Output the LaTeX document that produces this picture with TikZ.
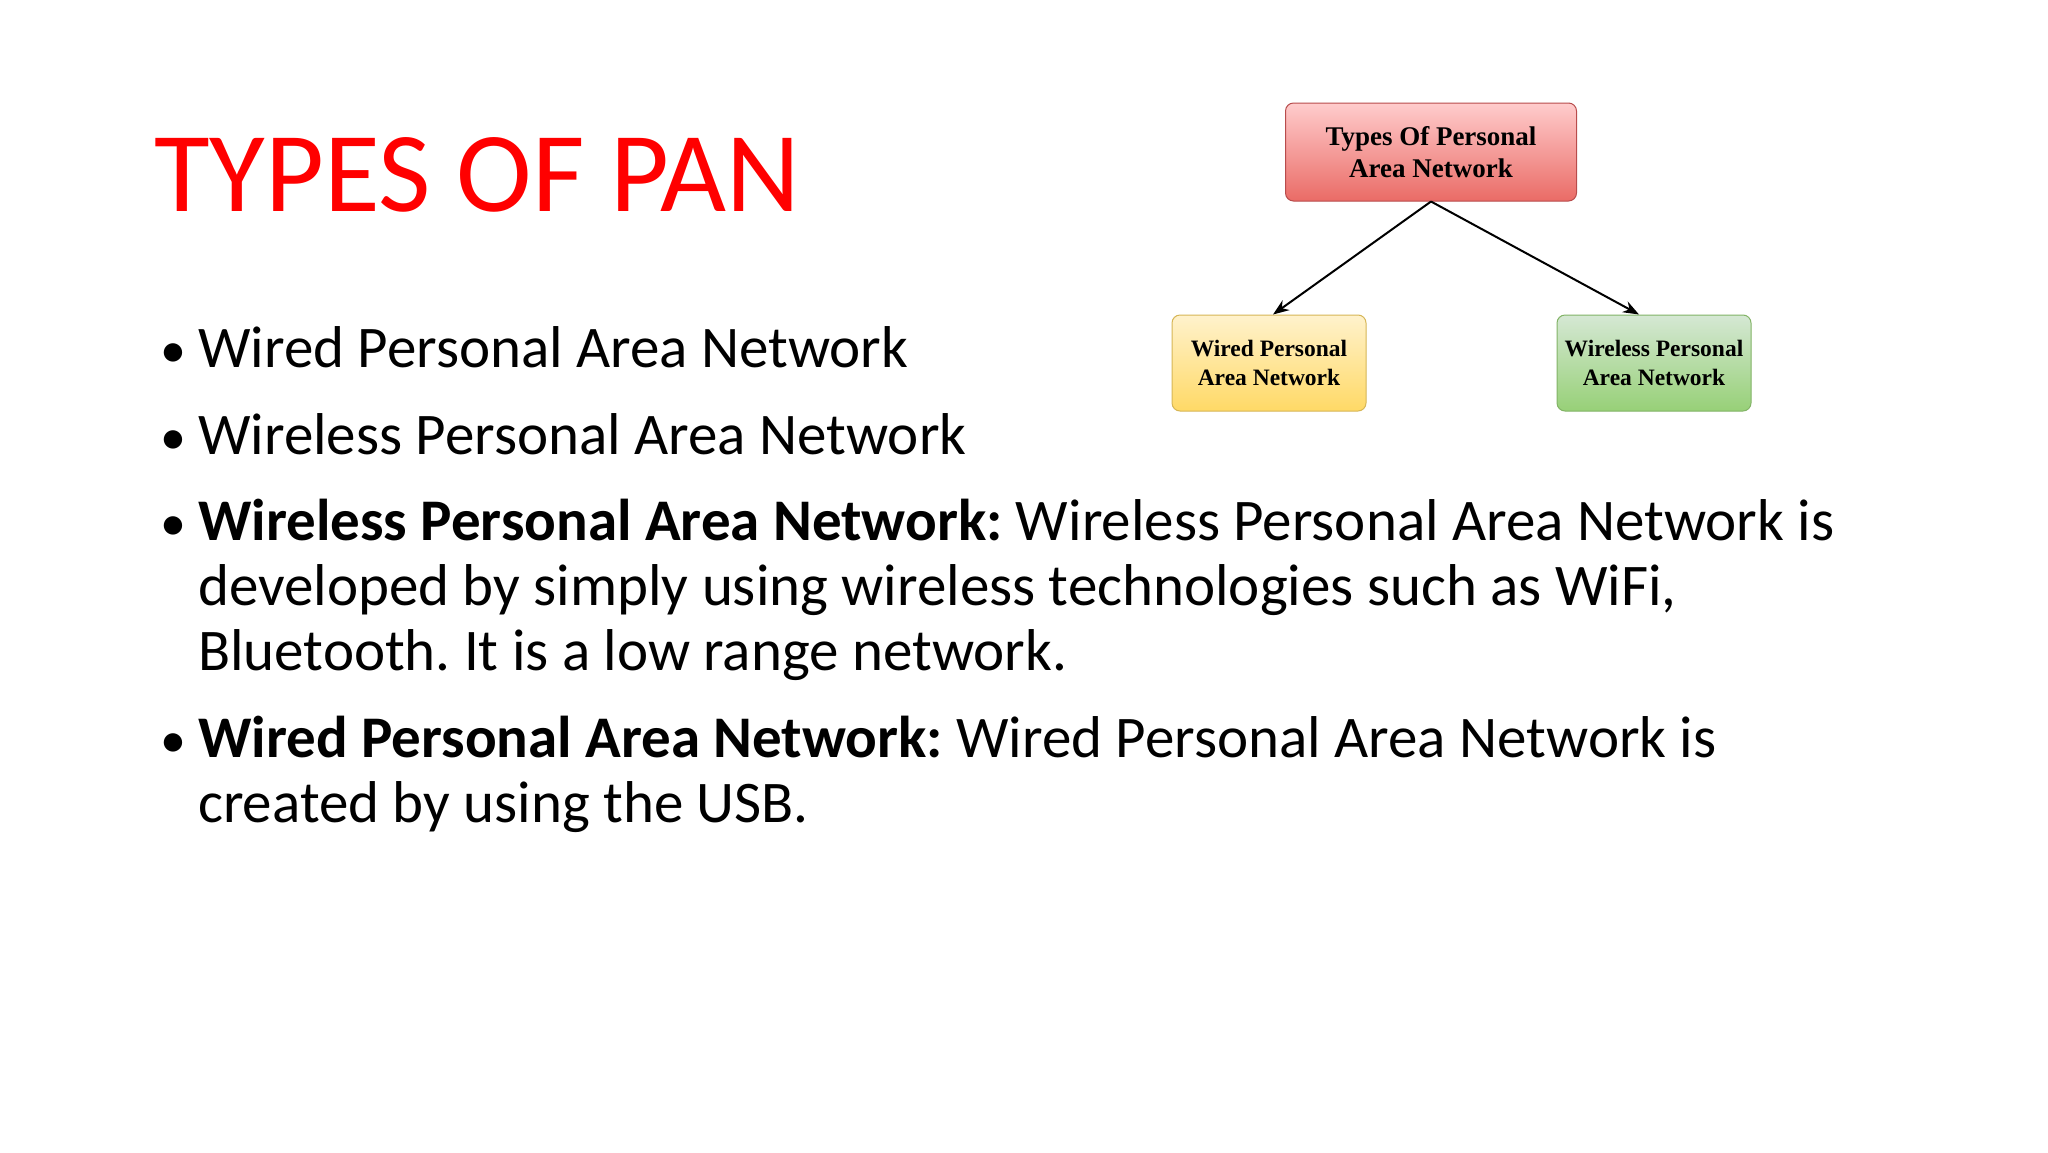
\documentclass[tikz,border=0pt]{standalone}
\usepackage{fontspec}
\setmainfont{Carlito}
\newfontfamily\boxfont{Liberation Serif}
\usetikzlibrary{arrows.meta}
\begin{document}
\frenchspacing
\begin{tikzpicture}[x=1pt,y=-1pt,
  line/.style={anchor=base west,inner sep=0pt,font=\fontsize{59}{70}\selectfont},
  bul/.style={anchor=base west,inner sep=0pt,font=\fontsize{52}{60}\selectfont},
  pbox/.style={draw,rounded corners=8pt,align=center,line width=1pt,font=\boxfont\bfseries\fontsize{27}{32}\selectfont},
  sbox/.style={pbox,minimum width=194pt,minimum height=96pt,font=\boxfont\bfseries\fontsize{23.5}{29}\selectfont},
  conn/.style={-{Stealth[length=16pt,width=12pt]},line width=2pt}]
\useasboundingbox (0,0) rectangle (2048,1152);
\fill[white] (0,0) rectangle (2048,1152);
\node[anchor=base west,inner sep=0pt,text=red,font=\fontsize{114}{130}\selectfont] (title) at (154,211) {TYPES OF PAN};
\foreach \y/\n in {367/b1,454/b2,540/b3,757/b4}{\node[bul] (\n) at (160,\y) {•};}
\node[line] (l1) at (198,367) {Wired Personal Area Network};
\node[line] (l2) at (198,454) {Wireless Personal Area Network};
\node[line] (l3) at (198,540) {\textbf{Wireless Personal Area Network:} Wireless Personal Area Network is};
\node[line] (l4) at (198,605) {developed by simply using wireless technologies such as WiFi,};
\node[line] (l5) at (198,670) {Bluetooth. It is a low range network.};
\node[line] (l6) at (198,757) {\textbf{Wired Personal Area Network:} Wired Personal Area Network is};
\node[line] (l7) at (198,822) {created by using the USB.};
\node[pbox,draw=red!60!black!70,top color=red!20!white,bottom color={rgb,255:red,234;green,107;blue,102},minimum width=291pt,minimum height=98pt] (top) at (1431,152) {Types Of Personal\\Area Network};
\node[sbox,draw={rgb,255:red,214;green,182;blue,86},top color={rgb,255:red,255;green,242;blue,204},bottom color={rgb,255:red,255;green,217;blue,102}] (wired) at (1269,363) {Wired Personal\\Area Network};
\node[sbox,draw={rgb,255:red,130;green,179;blue,102},top color={rgb,255:red,213;green,232;blue,212},bottom color={rgb,255:red,151;green,208;blue,119}] (wless) at (1654,363) {Wireless Personal\\Area Network};
\draw[conn] (top.south) -- ([xshift=4pt]wired.north);
\draw[conn] (top.south) -- ([xshift=-15pt]wless.north);
\end{tikzpicture}
\end{document}
